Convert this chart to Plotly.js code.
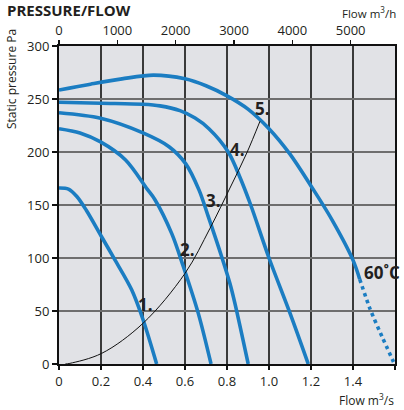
<!DOCTYPE html>
<html>
<head>
<meta charset="utf-8">
<script src="https://cdn.plot.ly/plotly-3.0.1.min.js"></script>
<style>html,body{margin:0;padding:0;background:#fff;}#chart{width:404px;height:410px;}</style>
</head>
<body>
<div id="chart"></div>
<script>
// Fan curves: flow in m3/s, static pressure in Pa
const flow1 = [0, 0.045, 0.085, 0.13, 0.2, 0.267, 0.346, 0.40, 0.465];
const pres1 = [166, 165, 158, 145, 121, 98, 70, 42, 0];

const flow2 = [0, 0.1, 0.198, 0.317, 0.42, 0.457, 0.537, 0.592, 0.663, 0.724];
const pres2 = [222, 218, 209.5, 192.5, 165, 155, 123, 92, 48, 0];

const flow3 = [0, 0.198, 0.40, 0.524, 0.603, 0.667, 0.711, 0.775, 0.814, 0.838, 0.901];
const pres3 = [237, 231.8, 218, 205, 189, 164, 139, 101, 76, 57, 0];

const flow4 = [0, 0.2, 0.4, 0.481, 0.576, 0.648, 0.714, 0.806, 0.862, 0.913, 1.0, 1.1, 1.187];
const pres4 = [247, 246, 245, 243.5, 239, 232, 222, 200, 176, 150, 100, 48, 0];

const flow5 = [0, 0.15, 0.3, 0.45, 0.6, 0.7, 0.8, 0.9, 1.0, 1.1, 1.2, 1.3, 1.4, 1.432];
const pres5 = [258.5, 264, 269, 272.5, 269, 262.5, 253, 240.5, 222, 198, 168, 136, 98, 80];

// 60°C extension (dotted)
const flow5hot = [1.432, 1.481, 1.54, 1.593];
const pres5hot = [80, 52, 25, 2];

// System (duct) curve
const flowSys = [0.03, 0.052, 0.203, 0.40, 0.6, 0.719, 0.814, 0.894, 0.957];
const presSys = [0, 0.6, 10, 38.4, 85.5, 128, 166, 199, 229];

// Axis ticks
const xTicks = [0, 0.2, 0.4, 0.6, 0.8, 1.0, 1.2, 1.4, 1.6];
const xTickText = ['0', '0.2', '0.4', '0.6', '0.8', '1.0', '1.2', '1.4', '1.6'];
const x2Ticks = [0, 1000, 2000, 3000, 4000, 5000];
const yTicks = [0, 50, 100, 150, 200, 250, 300];

// Curve labels
const labelText = ['1.', '2.', '3.', '4.', '5.'];
const labelX = [0.41, 0.61, 0.738, 0.852, 0.967];
const labelY = [55.7, 108, 154.7, 202, 241.5];

const BLUE = '#1b7dc2';
const TXT = '#231f20';
const FONT = 'Open Sans, Noto Sans, sans-serif';

function fanTrace(x, y) {
  return {x: x, y: y, type: 'scatter', mode: 'lines',
    line: {color: BLUE, width: 3.6, shape: 'spline', smoothing: 0.9},
    hoverinfo: 'skip', showlegend: false};
}

const traces = [
  fanTrace(flow1, pres1),
  fanTrace(flow2, pres2),
  fanTrace(flow3, pres3),
  fanTrace(flow4, pres4),
  fanTrace(flow5, pres5),
  {x: flow5hot, y: pres5hot, type: 'scatter', mode: 'lines',
   line: {color: BLUE, width: 3.6, dash: 'dot', shape: 'spline', smoothing: 0.6}, hoverinfo: 'skip', showlegend: false},
  {x: flowSys, y: presSys, type: 'scatter', mode: 'lines',
   line: {color: '#111', width: 1, shape: 'spline', smoothing: 1}, hoverinfo: 'skip', showlegend: false},
  {x: [0, 5760], y: [0, 0], xaxis: 'x2', type: 'scatter', mode: 'markers',
   marker: {opacity: 0}, hoverinfo: 'skip', showlegend: false}
];

// plot area pixels: x 59..395, y 46..364
const PL = 59, PR = 395, PT = 46, PB = 364;
const px = v => (v - PL) / (PR - PL);
const py = v => (PB - v) / (PB - PT);

const annotations = labelText.map((t, i) => ({
  x: labelX[i], y: labelY[i], xref: 'x', yref: 'y', text: '<b>' + t + '</b>',
  showarrow: false, font: {family: FONT, size: 17, color: TXT}
}));
annotations.push(
  {x: px(362), y: py(272), xref: 'paper', yref: 'paper', xanchor: 'left', yanchor: 'middle',
   text: '<b>60˚C</b>', showarrow: false, font: {family: FONT, size: 17, color: TXT}},
  {x: px(5), y: py(10), xref: 'paper', yref: 'paper', xanchor: 'left', yanchor: 'middle',
   text: '<b>PRESSURE/FLOW</b>', showarrow: false, font: {family: FONT, size: 15, color: TXT}},
  {x: px(398), y: py(12), xref: 'paper', yref: 'paper', xanchor: 'right', yanchor: 'middle',
   text: 'Flow m<sup>3</sup>/h', showarrow: false, font: {family: FONT, size: 11.5, color: TXT}},
  {x: px(396), y: py(400), xref: 'paper', yref: 'paper', xanchor: 'right', yanchor: 'middle',
   text: 'Flow m<sup>3</sup>/s', showarrow: false, font: {family: FONT, size: 12, color: TXT}},
  {x: px(11), y: py(79), xref: 'paper', yref: 'paper', xanchor: 'center', yanchor: 'middle',
   text: 'Static pressure Pa', textangle: -90, showarrow: false, font: {family: FONT, size: 12, color: TXT}}
);

const tickFont = {family: FONT, size: 13, color: TXT};

const layout = {
  width: 404, height: 410,
  margin: {l: PL, r: 404 - PR, t: PT, b: 410 - PB, pad: 0},
  paper_bgcolor: '#ffffff',
  plot_bgcolor: '#e1e2e6',
  showlegend: false,
  xaxis: {
    range: [0, 1.6], tickvals: xTicks, ticktext: xTickText, tickfont: tickFont,
    showgrid: true, gridcolor: '#3a3a3a', gridwidth: 1.3,
    ticks: 'outside', ticklen: 4, tickwidth: 1.3, tickcolor: '#111',
    showline: true, linecolor: '#111', linewidth: 2, mirror: true, zeroline: false,
    fixedrange: true
  },
  xaxis2: {
    overlaying: 'x', side: 'top', range: [0, 5760], tickvals: x2Ticks, tickfont: tickFont,
    showgrid: false, ticks: 'outside', ticklen: 5, tickwidth: 1.3, tickcolor: '#111',
    showline: false, zeroline: false, fixedrange: true
  },
  yaxis: {
    range: [0, 300], tickvals: yTicks, tickfont: tickFont,
    showgrid: true, gridcolor: '#6e6e6e', gridwidth: 1.5,
    ticks: 'outside', ticklen: 5, tickwidth: 1.3, tickcolor: '#111',
    showline: true, linecolor: '#111', linewidth: 2, mirror: true, zeroline: false,
    fixedrange: true
  },
  annotations: annotations
};

Plotly.newPlot('chart', traces, layout, {staticPlot: true, displayModeBar: false});
</script>
</body>
</html>
